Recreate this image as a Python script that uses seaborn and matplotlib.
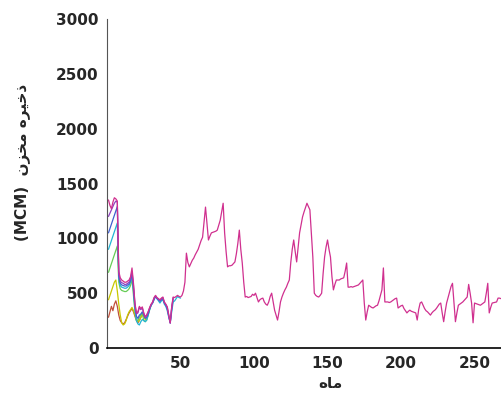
import matplotlib
matplotlib.use("Agg")
import matplotlib.pyplot as plt
import seaborn as sns
import pandas as pd

# Main series (months 1..268), storage in MCM
main_vals = [
    1350, 1300, 1270, 1330, 1370, 1360, 1340, 700, 640, 620,
    610, 600, 600, 610, 620, 650, 730, 590, 410, 320,
    330, 380, 360, 375, 320, 285, 300, 330, 370, 400,
    420, 460, 480, 460, 450, 440, 455, 465, 420, 400,
    375, 300, 230, 375, 465, 460, 470, 480, 470, 465,
    480, 520, 600, 865, 780, 740, 770, 800, 820, 850,
    875, 900, 940, 980, 1010, 1150, 1285, 1140, 985, 1020,
    1050, 1055, 1060, 1065, 1075, 1120, 1165, 1240, 1320, 1050,
    880, 740, 750, 750, 755, 770, 785, 860, 955, 1075,
    900, 775, 600, 465, 470, 460, 465, 470, 490, 480,
    500, 460, 420, 440, 450, 455, 420, 400, 390, 420,
    470, 500, 420, 345, 300, 255, 330, 420, 465, 500,
    530, 555, 590, 620, 780, 900, 985, 880, 785, 920,
    1050, 1120, 1195, 1240, 1280, 1320, 1290, 1260, 1050, 830,
    500, 480, 470, 465, 480, 500, 680, 830, 920, 985,
    900, 830, 650, 530, 580, 620, 620, 620, 630, 635,
    640, 700, 775, 555, 555, 560, 555, 560, 565, 570,
    575, 590, 605, 620, 410, 255, 330, 390, 380, 370,
    365, 375, 385, 390, 430, 480, 530, 730, 420, 420,
    420, 415, 420, 430, 440, 450, 455, 365, 375, 385,
    390, 360, 340, 320, 335, 345, 335, 330, 325, 320,
    255, 350, 410, 420, 390, 360, 340, 330, 315, 300,
    320, 335, 345, 360, 380, 400, 410, 320, 240, 330,
    410, 460, 510, 560, 590, 410, 240, 320, 390, 400,
    410, 420, 435, 450, 465, 580, 500, 410, 230, 410,
    405, 400, 395, 390, 400, 410, 420, 500, 590, 320,
    370, 410, 413, 416, 420, 455, 455, 450,
]

# Early parts of the other scenarios (they merge with the main series later)
purple_vals = [
    1200, 1230, 1260, 1290, 1320, 1340, 1330, 680, 610, 595,
    590, 580, 580, 590, 600, 630, 700, 570, 400, 310,
    320, 370, 350, 365, 315, 280, 300, 330, 365, 395,
    415, 455, 475, 455, 445, 435, 450, 460, 415, 395,
    370, 295, 225, 370, 460,
]
blue_vals = [
    1050, 1090, 1130, 1170, 1210, 1250, 1290, 660, 590, 575,
    570, 565, 565, 575, 585, 615, 680, 540, 380, 290,
    270, 300, 310, 330, 300, 270, 280, 310, 355, 390,
    410, 445, 470, 450, 440, 425, 440, 450, 410, 390,
    355, 290, 230, 355, 450,
]
cyan_vals = [
    900, 940, 980, 1020, 1060, 1100, 1140, 640, 570, 555,
    550, 545, 545, 555, 570, 600, 660, 520, 350, 250,
    220, 210, 240, 260, 250, 240, 255, 300, 350, 390,
    410, 440, 470, 450, 430, 410, 430, 440, 400, 380,
    340, 280, 230, 330, 420, 430, 450, 470, 460, 455,
]
green_vals = [
    690, 730, 770, 810, 850, 890, 930, 600, 540, 525,
    520, 515, 515, 525, 540, 570, 630, 480, 330, 260,
    250, 280, 300, 320, 250, 240, 255, 300, 350, 390,
]
yellow_vals = [
    440, 480, 520, 560, 600, 620, 520, 400, 300, 230,
    210, 220, 250, 300, 330, 350, 370, 340, 300, 260,
    240, 250, 280, 300, 290, 260, 270, 310,
]
brown_vals = [
    280, 330, 380, 340, 400, 430, 380, 300, 250, 230,
    220, 230, 260, 290, 320, 340, 360, 330, 290, 250,
    230, 250, 280, 300,
]

series = [
    ("brown", brown_vals, "#C0503C"),
    ("yellow", yellow_vals, "#C8C800"),
    ("green", green_vals, "#66CC55"),
    ("cyan", cyan_vals, "#22B5D5"),
    ("blue", blue_vals, "#4060D0"),
    ("purple", purple_vals, "#9040C0"),
    ("main", main_vals, "#D0308F"),
]

sns.set_style("white")
plt.rcParams["font.family"] = ["DejaVu Sans"]

fig = plt.figure(figsize=(5.01, 3.97), dpi=100)
ax = fig.add_axes([0.2136, 0.1234, 0.7864, 0.8287])

for name, vals, col in series:
    df = pd.DataFrame({"month": range(1, len(vals) + 1), "storage": vals})
    sns.lineplot(data=df, x="month", y="storage", ax=ax, color=col,
                 linewidth=0.9)

ax.set_xlim(0, 268)
ax.set_ylim(0, 3000)
ax.set_xticks([50, 100, 150, 200, 250])
ax.set_yticks([0, 500, 1000, 1500, 2000, 2500, 3000])

for s in ["top", "right"]:
    ax.spines[s].set_visible(False)
ax.spines["left"].set_color("#555555")
ax.spines["bottom"].set_color("black")
ax.spines["bottom"].set_linewidth(1.2)

ax.tick_params(axis="x", direction="in", length=4, color="#888888",
               labelsize=11, pad=6)
ax.tick_params(axis="y", direction="out", length=2, color="#555555",
               labelsize=11, pad=4)
for lab in ax.get_xticklabels() + ax.get_yticklabels():
    lab.set_fontweight("bold")

# Persian labels written in visual (shaped) order
ax.set_xlabel("\uFEE9\uFE8E\uFEE3", fontsize=11, fontweight="bold")
ax.xaxis.set_label_coords(0.566, -0.085)
ax.set_ylabel("(MCM)  \uFEE5\uFEB0\uFEA8\uFEE3 \uFEE9\uFEAE\uFBFF\uFEA7\uFEAB",
              fontsize=11, fontweight="bold")
ax.yaxis.set_label_coords(-0.195, 0.565)

fig.savefig("out.png", dpi=100)
